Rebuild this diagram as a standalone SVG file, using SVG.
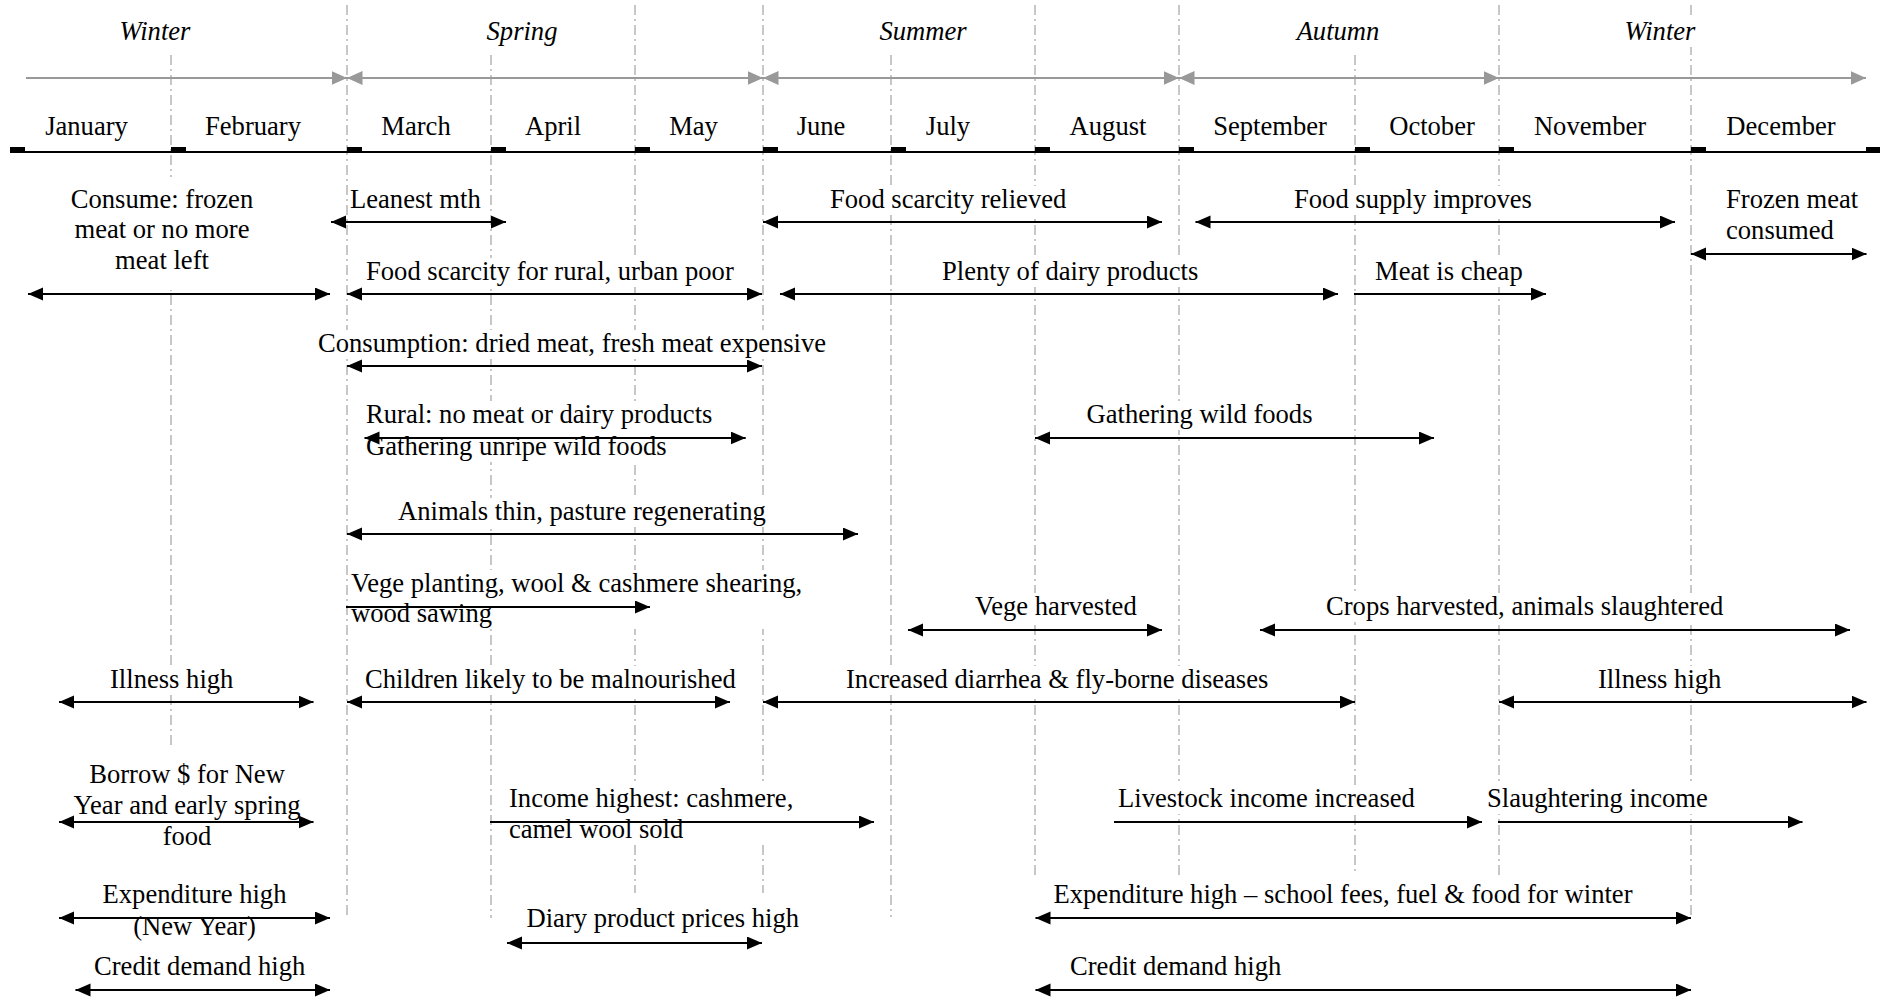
<svg xmlns="http://www.w3.org/2000/svg" width="1880" height="1000" viewBox="0 0 1880 1000">
<style>
.t{font-family:"Liberation Serif","Times New Roman",serif;font-size:26.6px;fill:#000}
.i{font-style:italic}
.m{text-anchor:middle}
.bg{fill:#fff}
.g{stroke:#aaa;stroke-width:1.3;stroke-dasharray:10 4 2 4;fill:none}
.a{stroke:#000;stroke-width:2;fill:none}
.ab{marker-start:url(#ah);marker-end:url(#ah)}
.ae{marker-end:url(#ah)}
.sa{stroke:#999;stroke-width:2;fill:none}
.sb{marker-start:url(#gh);marker-end:url(#gh)}
.se{marker-end:url(#gh)}
.tk{fill:#000}
</style>
<defs>
<marker id="ah" markerUnits="userSpaceOnUse" markerWidth="16" markerHeight="14" refX="15" refY="6.5" orient="auto-start-reverse"><path d="M0,0 L15,6.5 L0,13 Z" fill="#000"/></marker>
<marker id="gh" markerUnits="userSpaceOnUse" markerWidth="16" markerHeight="15" refX="15.5" refY="7" orient="auto-start-reverse"><path d="M0,0 L15.5,7 L0,14 Z" fill="#999"/></marker>
</defs>
<rect width="1880" height="1000" fill="#fff"/>
<g id="gridlines">
<line class="g" x1="171" y1="55" x2="171" y2="748"/>
<line class="g" x1="347" y1="5" x2="347" y2="918"/>
<line class="g" x1="491" y1="55" x2="491" y2="918"/>
<line class="g" x1="635" y1="5" x2="635" y2="893"/>
<line class="g" x1="763" y1="5" x2="763" y2="893"/>
<line class="g" x1="891" y1="55" x2="891" y2="917"/>
<line class="g" x1="1035" y1="5" x2="1035" y2="875"/>
<line class="g" x1="1179" y1="5" x2="1179" y2="875"/>
<line class="g" x1="1355" y1="55" x2="1355" y2="875"/>
<line class="g" x1="1499" y1="5" x2="1499" y2="875"/>
<line class="g" x1="1691" y1="5" x2="1691" y2="918"/>
</g>
<g id="seasons">
<g id="season-winter-1"><rect class="bg" x="115" y="18" width="79" height="29"/><text class="t i m" x="155" y="40">Winter</text></g>
<g id="season-spring"><rect class="bg" x="482" y="18" width="79" height="29"/><text class="t i m" x="522" y="40">Spring</text></g>
<g id="season-summer"><rect class="bg" x="875" y="18" width="95" height="29"/><text class="t i m" x="923" y="40">Summer</text></g>
<g id="season-autumn"><rect class="bg" x="1293" y="18" width="91" height="29"/><text class="t i m" x="1338" y="40">Autumn</text></g>
<g id="season-winter-2"><rect class="bg" x="1622" y="18" width="77" height="29"/><text class="t i m" x="1660" y="40">Winter</text></g>
<line class="sa se" x1="26" y1="78" x2="347" y2="78"/>
<line class="sa sb" x1="347" y1="78" x2="763" y2="78"/>
<line class="sa sb" x1="763" y1="78" x2="1179" y2="78"/>
<line class="sa sb" x1="1179" y1="78" x2="1499" y2="78"/>
<line class="sa se" x1="1499" y1="78" x2="1866" y2="78"/>
</g>
<g id="timeline">
<line x1="10" y1="152" x2="1880" y2="152" stroke="#000" stroke-width="2"/>
<rect class="tk" x="10" y="147" width="15" height="6"/>
<rect class="tk" x="171" y="147" width="15" height="6"/>
<rect class="tk" x="347" y="147" width="15" height="6"/>
<rect class="tk" x="491" y="147" width="15" height="6"/>
<rect class="tk" x="635" y="147" width="15" height="6"/>
<rect class="tk" x="763" y="147" width="15" height="6"/>
<rect class="tk" x="891" y="147" width="15" height="6"/>
<rect class="tk" x="1035" y="147" width="15" height="6"/>
<rect class="tk" x="1179" y="147" width="15" height="6"/>
<rect class="tk" x="1355" y="147" width="15" height="6"/>
<rect class="tk" x="1499" y="147" width="15" height="6"/>
<rect class="tk" x="1691" y="147" width="15" height="6"/>
<rect class="tk" x="1866" y="147" width="14" height="6"/>
<text class="t m" x="86.5" y="135">January</text>
<text class="t m" x="253" y="135">February</text>
<text class="t m" x="416" y="135">March</text>
<text class="t m" x="553" y="135">April</text>
<text class="t m" x="693.5" y="135">May</text>
<text class="t m" x="821" y="135">June</text>
<text class="t m" x="948" y="135">July</text>
<text class="t m" x="1108" y="135">August</text>
<text class="t m" x="1270" y="135">September</text>
<text class="t m" x="1432" y="135">October</text>
<text class="t m" x="1590" y="135">November</text>
<text class="t m" x="1781" y="135">December</text>
</g>
<g id="nodes">
<g id="n-consume"><rect class="bg" x="66" y="177" width="192" height="113"/><text class="t m" x="162" y="208">Consume: frozen</text><text class="t m" x="162" y="238">meat or no more</text><text class="t m" x="162" y="269">meat left</text></g>
<g id="n-leanest"><rect class="bg" x="349" y="186" width="136" height="29"/><text class="t" x="350" y="208">Leanest mth</text></g>
<g id="n-scarcity-relieved"><rect class="bg" x="826" y="186" width="244" height="29"/><text class="t" x="830" y="208">Food scarcity relieved</text></g>
<g id="n-supply-improves"><rect class="bg" x="1290" y="186" width="245" height="29"/><text class="t" x="1294" y="208">Food supply improves</text></g>
<g id="n-frozen-consumed"><rect class="bg" x="1722" y="186" width="140" height="59"/><text class="t" x="1726" y="208">Frozen meat</text><text class="t" x="1726" y="239">consumed</text></g>
<g id="n-scarcity-rural"><rect class="bg" x="362" y="258" width="377" height="29"/><text class="t" x="366" y="280">Food scarcity for rural, urban poor</text></g>
<g id="n-dairy"><rect class="bg" x="938" y="258" width="264" height="29"/><text class="t" x="942" y="280">Plenty of dairy products</text></g>
<g id="n-meat-cheap"><rect class="bg" x="1371" y="258" width="154" height="29"/><text class="t" x="1375" y="280">Meat is cheap</text></g>
<g id="n-consumption"><rect class="bg" x="314" y="330" width="517" height="29"/><text class="t" x="318" y="352">Consumption: dried meat, fresh meat expensive</text></g>
<g id="n-rural"><rect class="bg" x="362" y="401" width="354" height="61"/><text class="t" x="366" y="423">Rural: no meat or dairy products</text><text class="t" x="366" y="455">Gathering unripe wild foods</text></g>
<g id="n-wild-foods"><rect class="bg" x="1083" y="401" width="232" height="29"/><text class="t" x="1086.5" y="423">Gathering wild foods</text></g>
<g id="n-animals-thin"><rect class="bg" x="394" y="498" width="375" height="29"/><text class="t" x="398" y="520">Animals thin, pasture regenerating</text></g>
<g id="n-vege-planting"><rect class="bg" x="349" y="570" width="459" height="59"/><text class="t" x="351" y="592">Vege planting, wool &amp; cashmere shearing,</text><text class="t" x="351" y="622">wood sawing</text></g>
<g id="n-vege-harvested"><rect class="bg" x="971" y="593" width="171" height="29"/><text class="t" x="975" y="615">Vege harvested</text></g>
<g id="n-crops"><rect class="bg" x="1322" y="593" width="405" height="29"/><text class="t" x="1326" y="615">Crops harvested, animals slaughtered</text></g>
<g id="n-illness-1"><rect class="bg" x="106" y="666" width="131" height="29"/><text class="t" x="110" y="688">Illness high</text></g>
<g id="n-children"><rect class="bg" x="361" y="666" width="379" height="29"/><text class="t" x="365" y="688">Children likely to be malnourished</text></g>
<g id="n-diarrhea"><rect class="bg" x="842" y="666" width="430" height="29"/><text class="t" x="846" y="688">Increased diarrhea &amp; fly-borne diseases</text></g>
<g id="n-illness-2"><rect class="bg" x="1594" y="666" width="131" height="29"/><text class="t" x="1598" y="688">Illness high</text></g>
<g id="n-borrow"><rect class="bg" x="69" y="761" width="236" height="91"/><text class="t m" x="187" y="783">Borrow $ for New</text><text class="t m" x="187" y="814">Year and early spring</text><text class="t m" x="187" y="845">food</text></g>
<g id="n-income"><rect class="bg" x="505" y="785" width="294" height="60"/><text class="t" x="509" y="807">Income highest: cashmere,</text><text class="t" x="509" y="838">camel wool sold</text></g>
<g id="n-livestock"><rect class="bg" x="1114" y="785" width="305" height="29"/><text class="t" x="1118" y="807">Livestock income increased</text></g>
<g id="n-slaughtering"><rect class="bg" x="1483" y="785" width="228" height="29"/><text class="t" x="1487" y="807">Slaughtering income</text></g>
<g id="n-expenditure-1"><rect class="bg" x="99" y="881" width="191" height="61"/><text class="t m" x="194.5" y="903">Expenditure high</text><text class="t m" x="194.5" y="935">(New Year)</text></g>
<g id="n-diary-prices"><rect class="bg" x="522" y="905" width="281" height="29"/><text class="t" x="526.5" y="927">Diary product prices high</text></g>
<g id="n-expenditure-2"><rect class="bg" x="1050" y="881" width="588" height="29"/><text class="t" x="1053.5" y="903">Expenditure high – school fees, fuel &amp; food for winter</text></g>
<g id="n-credit-1"><rect class="bg" x="90" y="953" width="219" height="29"/><text class="t" x="94" y="975">Credit demand high</text></g>
<g id="n-credit-2"><rect class="bg" x="1066" y="953" width="219" height="29"/><text class="t" x="1070" y="975">Credit demand high</text></g>
</g>
<g id="connectors">
<line class="a ab" x1="331" y1="222" x2="506" y2="222"/>
<line class="a ab" x1="763" y1="222" x2="1162" y2="222"/>
<line class="a ab" x1="1195.5" y1="222" x2="1675" y2="222"/>
<line class="a ab" x1="1691" y1="254" x2="1866.5" y2="254"/>
<line class="a ab" x1="28" y1="294" x2="330" y2="294"/>
<line class="a ab" x1="347" y1="294" x2="762" y2="294"/>
<line class="a ab" x1="780" y1="294" x2="1338" y2="294"/>
<line class="a ae" x1="1354" y1="294" x2="1546" y2="294"/>
<line class="a ab" x1="347" y1="366" x2="762" y2="366"/>
<line class="a ab" x1="364.5" y1="438" x2="745.7" y2="438"/>
<line class="a ab" x1="1035" y1="438" x2="1434" y2="438"/>
<line class="a ab" x1="347" y1="534" x2="858" y2="534"/>
<line class="a ae" x1="346" y1="607" x2="650" y2="607"/>
<line class="a ab" x1="908" y1="630" x2="1162" y2="630"/>
<line class="a ab" x1="1260" y1="630" x2="1850" y2="630"/>
<line class="a ab" x1="59" y1="702" x2="313.5" y2="702"/>
<line class="a ab" x1="347" y1="702" x2="730" y2="702"/>
<line class="a ab" x1="763" y1="702" x2="1355" y2="702"/>
<line class="a ab" x1="1499" y1="702" x2="1866.5" y2="702"/>
<line class="a ab" x1="59" y1="822" x2="313.5" y2="822"/>
<line class="a ae" x1="490" y1="822" x2="874" y2="822"/>
<line class="a ae" x1="1114" y1="822" x2="1482" y2="822"/>
<line class="a ae" x1="1498" y1="822" x2="1802.5" y2="822"/>
<line class="a ab" x1="59" y1="918" x2="330" y2="918"/>
<line class="a ab" x1="507" y1="943" x2="762" y2="943"/>
<line class="a ab" x1="1035.5" y1="918" x2="1691" y2="918"/>
<line class="a ab" x1="75.5" y1="990" x2="330" y2="990"/>
<line class="a ab" x1="1035.5" y1="990" x2="1691" y2="990"/>
</g>
</svg>
